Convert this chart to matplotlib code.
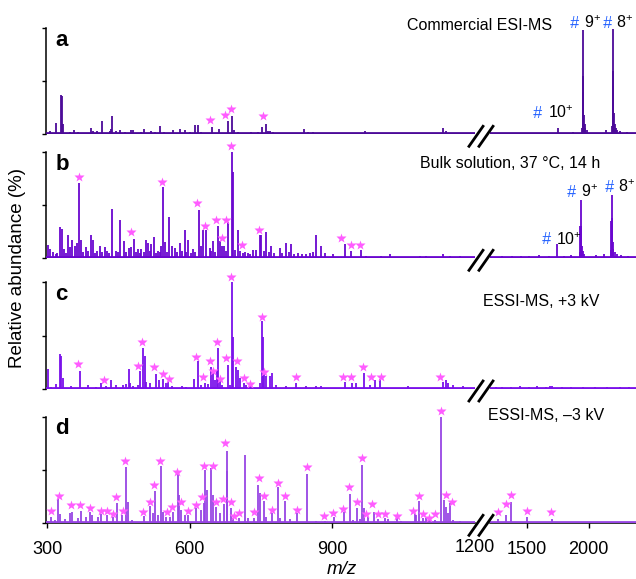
import matplotlib
matplotlib.use("Agg")
import matplotlib.pyplot as plt
from matplotlib.lines import Line2D

plt.rcParams['font.family'] = ['Liberation Sans', 'DejaVu Sans']
plt.rcParams['mathtext.fontset'] = 'custom'
plt.rcParams['mathtext.rm'] = 'Liberation Sans'
plt.rcParams['mathtext.it'] = 'Liberation Sans:italic'

# ---------------- data ----------------
# panel a : commercial ESI-MS
a_mz = [305.7, 319.7, 328.8, 331.6, 333.7, 349.2, 356.2, 365.3, 393.4, 396.9, 405.3, 416.6,
        432.0, 434.8, 437.6, 446.0, 454.5, 463.6, 477.6, 481.1, 498.7, 503.6, 519.7, 526.7,
        537.3, 545.7, 565.3, 579.4, 589.9, 600.4, 611.0, 618.0, 625.0, 635.5, 647.4, 661.5,
        672.0, 681.8, 690.2, 693.0, 702.2, 719.7, 730.3, 744.3, 753.4, 760.4, 765.3, 770.3,
        775.9, 786.4, 807.5, 825.0, 840.4, 849.6, 860.0, 888.0, 912.7, 968.8, 1014.5, 1056.6,
        1084.6, 1133.8, 1140.8, 1168.9,
        1335, 1443, 1578, 1753.6, 1875,
        1946, 1950, 1953, 1956, 1960, 1966, 1973, 1982,
        2140,
        2190, 2194, 2197, 2200, 2205, 2212, 2220, 2232, 2250, 2307]
a_int = [3.4, 10.4, 37.0, 36.4, 10.0, 2.5, 4.1, 2.5, 6.0, 3.4, 3.0, 12.2,
         3.4, 4.7, 17.5, 3.0, 4.0, 2.0, 4.0, 4.0, 2.5, 4.7, 3.0, 2.0,
         7.5, 2.5, 4.0, 4.7, 4.0, 2.0, 9.0, 8.7, 2.0, 1.5, 7.0, 4.7,
         1.5, 12.5, 17.3, 4.0, 2.0, 1.5, 2.0, 2.0, 7.2, 9.4, 3.4, 3.0,
         2.5, 1.5, 1.5, 1.5, 5.0, 1.8, 1.8, 1.5, 1.5, 3.4, 1.5, 1.5,
         1.5, 5.6, 3.4, 1.5,
         1.5, 1.5, 1.5, 6.3, 2.0,
         6, 40, 97.8, 55, 18, 10, 6, 4,
         4.0,
         8, 45, 99, 60, 20, 10, 6, 4, 3, 2.5]
a_star_mz = [644.0, 674.1, 686.8, 754.8]
a_star_y = [13.9, 17.9, 24.2, 17.0]

# panel b : bulk solution
b_mz = [302, 306, 313, 318, 321, 328, 331, 336, 340, 344, 349, 353.4, 358, 363, 367.4, 372, 376,
        381.5, 386, 393.4, 397, 400, 404, 411, 416, 421.5, 426.4, 431, 437.6, 444.6, 450,
        454.5, 461.5, 466, 472.7, 477.6, 482.5, 487, 491.7, 495, 498.7, 503, 507.8, 512.7,
        516, 519.7, 524.6, 529, 533.8, 537, 540.8, 543.6, 547.8, 552, 556.2, 563.2, 568.8,
        574, 579.4, 584, 589.9, 593, 597, 602, 607.4, 612, 619.4, 623.6, 629.2, 635.5, 642.5,
        645, 649.6, 654, 659.4, 663.6, 669.2, 672.7, 676, 680.4, 689.6, 691.7, 696, 701.5,
        707.1, 712, 716.2, 722, 728, 733.8, 740.8, 747.8, 751.3, 756, 761.8, 767, 772.4, 778,
        789.9, 795, 804, 809, 814.5, 820, 828.5, 836, 845, 853, 860, 867, 877.6, 884.6, 902,
        926.7, 940.8, 960.4, 972.4, 1004, 1023, 1084.6, 1098.7, 1133.8, 1147.8, 1168.9,
        1300, 1380, 1450, 1520, 1600, 1680, 1746, 1800, 1860,
        1928, 1932, 1935, 1938, 1942, 1950, 1960,
        2060, 2120,
        2179, 2183, 2186, 2189, 2194, 2200, 2210, 2225, 2260, 2320]
b_int = [12.3, 9, 6, 4, 5, 29.6, 28, 9, 5, 21.7, 10.7, 17.6, 12, 14, 71, 17.6, 6,
         11, 7, 21.7, 17, 5, 7, 12, 6, 11, 7, 5, 46.2, 7, 6,
         35.8, 16, 6, 10, 11, 18.6, 6, 9, 5, 9, 6, 17.6, 14,
         7, 13.5, 19.8, 5, 7, 6, 12, 67.3, 15, 6, 38.4, 12, 10,
         6, 14, 7, 27, 6, 17.6, 5, 9, 6, 45.9, 12, 27, 26.7, 10,
         7, 16, 6, 30.2, 16, 12, 12, 7, 34.3, 100, 81.4, 8, 26.7,
         7, 5, 6, 5, 4, 8, 8, 21.7, 22, 7, 24.8, 6, 12, 5,
         10, 5, 14, 6, 13.5, 4, 5, 4, 4, 5, 6, 21.7, 12, 5, 4,
         13.5, 7, 8, 2.5, 2.5, 4, 2.5, 2.5, 4, 2.5, 2.5,
         2, 2, 2.5, 2, 3, 2.5, 13.2, 2.5, 3,
         6, 30, 55.3, 30, 12, 7, 4,
         3, 4,
         8, 35, 60, 38, 15, 9, 6, 4, 3, 2.5]
b_star_mz = [367.4, 477.6, 542.2, 615.9, 632.7, 656.6, 669.2, 677.6, 687.5, 710.6, 746.4,
             919.7, 939.4, 959.7]
b_star_y = [76.1, 24.8, 72.0, 51.6, 30.5, 35.8, 19.2, 35.8, 106.0, 12.9, 27.0,
            19.5, 12.9, 12.9]

# panel c : ESSI-MS, +3 kV
c_mz = [300.8, 309.2, 318.3, 326.7, 330.2, 333.7, 351.3, 368.8, 386.4, 403.9, 414.4, 423.6,
        435.5, 446, 460, 465.7, 472, 475.5, 481, 491.6, 495.2, 502.2, 505.7, 509.2, 516.2,
        528.8, 535.9, 544.3, 551.3, 554.8, 563.9, 585, 593.4, 608.9, 617.3, 625, 632, 639,
        646, 649.6, 653, 658, 660.8, 663.6, 669.2, 680.4, 686, 688.9, 691.7, 698.7, 702.2,
        707.1, 714.8, 719.7, 728.1, 747.8, 752.7, 754.8, 756.9, 760.4, 768.9, 773.1, 782.9,
        804, 825, 846, 867, 877.6, 926.7, 942.9, 951.3, 966.7, 979.4, 989.9, 1000.4, 1060,
        1133.8, 1139.4, 1144.3, 1154.8, 1175.9,
        1250, 1300, 1370, 1440, 1520, 1580, 1650, 1686, 1700, 1780, 1860, 1950, 2050, 2150,
        2250, 2330]
c_int = [18.7, 2, 5, 32.8, 31, 10, 3, 16.9, 4, 2, 5.3, 2.5,
         8.4, 4, 4, 4.5, 18.7, 5.5, 2.5, 4, 16.9, 38.7, 31, 7, 5.5,
         13.7, 8, 9.4, 5.5, 7, 2.5, 2.5, 1.5, 9.4, 26.2, 4, 5.5, 5,
         20.9, 17.8, 8.4, 17.8, 38, 8.4, 4, 22.5, 4, 100, 49, 20.9, 17.8,
         10, 5.5, 4, 2.5, 6, 64, 49, 17, 12, 12, 14.7, 4,
         2.5, 6, 3, 2.5, 2.5, 6.9, 5.3, 5.3, 14.6, 4, 8.4, 9, 3,
         6.9, 8.4, 5.3, 4, 2.5,
         2, 1.5, 2, 2.5, 2, 2.5, 2, 3, 3, 2, 2, 2, 2, 1.5,
         1.5, 1.5]
c_star_mz = [365.3, 420.1, 491.6, 500.0, 525.3, 544.3, 556.9, 613.0, 628.5, 642.5, 649.6,
             658.7, 663.6, 676.2, 686.8, 700.1, 714.8, 728.1, 752.7, 756.9, 825.0,
             923.2, 940.8, 965.3, 982.9, 1003.9, 1128.2]
c_star_y = [23.1, 8.4, 21.9, 44.3, 20.9, 13.7, 9.4, 30.3, 11.6, 26.6, 16.9,
            44.3, 9.4, 29.4, 105.3, 26.2, 10.0, 4.4, 67.8, 16.2, 11.0,
            11.6, 10.9, 20.3, 11.6, 11.6, 11.6]

# panel d : ESSI-MS, -3 kV
d_mz = [302.2, 309.2, 316.2, 323.2, 328.1, 337.3, 349.2, 352.7, 365.3, 372.3, 381.5, 389.9,
        395.5, 407.4, 413, 426.4, 439, 448.1, 458.7, 467.1, 470.6, 479.7, 503.6, 517.6,
        523.2, 528.1, 533.8, 540.8, 544.3, 551.3, 558.3, 565.3, 575.2, 577.3, 582.9, 589.9,
        597, 613.1, 625, 629.9, 633.4, 636.9, 646, 649.6, 655.2, 663.6, 672, 678.3, 679.7,
        686.7, 691.7, 703.6, 717.6, 723.2, 735.2, 745, 747.8, 756.2, 761.8, 774.5, 786.4,
        789.9, 800.4, 811, 826.4, 847.5, 867,
        884.6, 903.6, 924.6, 937.3, 944.3, 953.4, 958.3, 963.9, 966.7, 975.9, 987.8, 996.9,
        1012.4, 1018, 1036.9, 1046, 1074.1, 1077.6, 1082.5, 1091.7, 1098.7, 1104.3, 1117.6,
        1130.3, 1135.2, 1139.4, 1144.3, 1147.8, 1154.8, 1168.9,
        1267, 1330, 1368, 1437.6, 1502, 1600, 1700, 1850, 2000, 2150, 2302]
d_int = [2.2, 6.2, 3.1, 22.8, 8.4, 4, 9.3, 10.9, 4.6, 11.6, 6, 10.3,
         7.7, 6, 8.4, 7.7, 6.2, 18.7, 7.7, 53.1, 20.2, 3.1, 7.1, 16.2,
         9.3, 30.3, 7.7, 54, 10.9, 6.2, 6.2, 10.9, 49, 26.5, 12.5, 7.7,
         7.7, 14.1, 12.5, 18.7, 49.9, 31.2, 51.5, 26.5, 15.6, 9.3, 17.8, 67.7, 49,
         14.6, 5.3, 4.6, 64, 5.3, 5.3, 35.9, 28.1, 20.9, 6.2, 9.3, 34.3,
         4.6, 21.2, 4, 9.3, 46.5, 2.2,
         2.2, 6.2, 10.3, 27.5, 3.1, 14.7, 4, 54.6, 14.7, 6.2, 11, 4,
         5, 4, 4.6, 2.2, 8.4, 7.7, 21, 5, 4.6, 4, 3.1,
         100, 21.8, 14.9, 10, 18.7, 3.1, 2.2,
         4, 8, 20, 1.5, 6, 1.5, 4, 1.5, 1.5, 1.5, 1.5]
d_star_mz = [307.8, 324.6, 351.3, 368.8, 391.3, 413.0, 427.1, 439.0, 444.6, 460.1, 465.0,
             502.2, 516.2, 525.3, 538.0, 552.7, 563.9, 573.8, 581.5, 597.6, 613.1, 627.1,
             631.3, 650.3, 656.6, 670.6, 675.5, 686.8, 693.1, 704.3, 735.2, 746.4, 756.2,
             774.5, 787.1, 801.1, 826.4, 846.8,
             883.2, 902.2, 923.2, 935.2, 953.4, 963.9, 972.4, 985.0, 996.9, 1012.4, 1036.9,
             1070.6, 1082.5, 1091.7, 1104.3, 1116.2, 1130.3, 1139.4, 1152.0,
             1262, 1328, 1368, 1497, 1695]
d_star_y = [11.5, 25.6, 17.2, 17.2, 14.0, 11.8, 11.5, 8.4, 24.4, 11.8, 58.4,
            10.9, 20.3, 35.9, 58.4, 10.3, 15.0, 48.4, 19.7, 11.8, 17.2, 24.4,
            54.0, 54.0, 19.7, 22.5, 75.0, 19.7, 7.1, 9.9, 10.3, 42.2, 25.9,
            12.5, 38.1, 25.9, 12.5, 53.0,
            7.1, 9.9, 13.4, 33.7, 20.3, 60.9, 8.7, 17.8, 8.7, 8.7, 7.1,
            11.8, 25.6, 8.4, 5.3, 8.4, 105.5, 26.5, 20.3,
            10.3, 18.1, 26.5, 11.8, 10.9]

x_ticks_left = [300, 600, 900]
x_ticks_right = [1500, 2000]
break_label = '1200'
x_break = 1200

panel_letters = ['a', 'b', 'c', 'd']
panel_titles = ['Commercial ESI-MS', 'Bulk solution, 37 °C, 14 h',
                'ESSI-MS, +3 kV', 'ESSI-MS, \u20133 kV']
colors = ['#4c0a98', '#6a06cf', '#7a10ea', '#9745e4']
star_color = '#ff5cff'
hash_color = '#2260ff'

# ---------------- layout ----------------
W, H = 636, 579
fig = plt.figure(figsize=(W / 100, H / 100), dpi=100)

def fx(px):
    return px / W

def fy(py):
    return 1 - py / H

rows = [(28.0, 134.3), (152.0, 258.3), (282.3, 389.0), (416.7, 523.3)]
title_pos = [(407, 26), (420, 164), (483, 302), (488, 416)]

data = [(a_mz, a_int, a_star_mz, a_star_y),
        (b_mz, b_int, b_star_mz, b_star_y),
        (c_mz, c_int, c_star_mz, c_star_y),
        (d_mz, d_int, d_star_mz, d_star_y)]

XL0, XL1 = 45.7, 474.5
XR0, XR1 = 490.0, 636.0

for i, ((top, bot), (mz, inten, smz, sy)) in enumerate(zip(rows, data)):
    h = (bot - top) / H
    axl = fig.add_axes([fx(XL0), fy(bot), (XL1 - XL0) / W, h])
    axr = fig.add_axes([fx(XR0), fy(bot), (XR1 - XR0) / W, h])
    axl.set_xlim(297, x_break)
    axr.set_xlim(x_break, 2383)
    for ax, side in ((axl, 0), (axr, 1)):
        ax.set_ylim(0, 100)
        ax.patch.set_alpha(0)
        for s in ('top', 'right'):
            ax.spines[s].set_visible(False)
        ax.axhline(0.8, color=colors[i], lw=2.0, zorder=3)
        ax.vlines(mz, 0, inten, colors=colors[i], lw=1.3, zorder=3)
        keep = [(m, y) for m, y in zip(smz, sy) if (m < x_break) == (side == 0)]
        if keep:
            ax.plot([k[0] for k in keep], [k[1] for k in keep], ls='none', marker='*',
                    ms=7.5, mec='none', color=star_color, clip_on=False, zorder=4)
    axr.spines['left'].set_visible(False)
    axr.set_yticks([])
    axl.set_yticks([0, 50, 100])
    axl.set_yticklabels([])
    axl.tick_params(axis='y', direction='out', length=3, width=1.0)
    axl.spines['left'].set_linewidth(1.1)
    if i < 3:
        axl.spines['bottom'].set_visible(False)
        axr.spines['bottom'].set_visible(False)
        axl.set_xticks([])
        axr.set_xticks([])
    else:
        axl.set_xticks(x_ticks_left)
        axr.set_xticks(x_ticks_right)
        for ax in (axl, axr):
            ax.spines['bottom'].set_linewidth(1.1)
            ax.tick_params(axis='x', direction='out', length=3.5, width=1.0,
                           labelsize=13, pad=9)
    axl.text(0.022, 0.985, panel_letters[i], transform=axl.transAxes,
             fontsize=16, fontweight='bold', ha='left', va='top')
    tx, ty = title_pos[i]
    fig.text(fx(tx), fy(ty), panel_titles[i], fontsize=11.5, ha='left', va='center')
    for dx in (0, 10):
        fig.add_artist(Line2D([fx(469 + dx), fx(483 + dx)], [fy(bot + 12), fy(bot - 8)],
                              color='black', lw=2.0))

def charge_label(hx, cx, py, txt):
    fig.text(fx(hx), fy(py), '#', color=hash_color, fontsize=11.5, ha='left', va='center',
             fontstyle='italic')
    fig.text(fx(cx), fy(py), txt, color='black', fontsize=11.5, ha='left', va='center')

charge_label(570, 584, 23, r'9$^{+}$')
charge_label(603, 616, 23, r'8$^{+}$')
charge_label(533, 548, 113, r'10$^{+}$')
charge_label(567, 581, 192, r'9$^{+}$')
charge_label(605, 618, 187, r'8$^{+}$')
charge_label(542, 556, 240, r'10$^{+}$')

fig.text(fx(475), fy(548), break_label, fontsize=13, ha='center', va='center')
fig.text(fx(18), fy(268), 'Relative abundance (%)', fontsize=13.5, rotation=90,
         ha='center', va='center')
fig.text(fx(342), fy(569), 'm/z', fontsize=13.5, style='italic', ha='center', va='center')

fig.savefig('out.png', dpi=100)
